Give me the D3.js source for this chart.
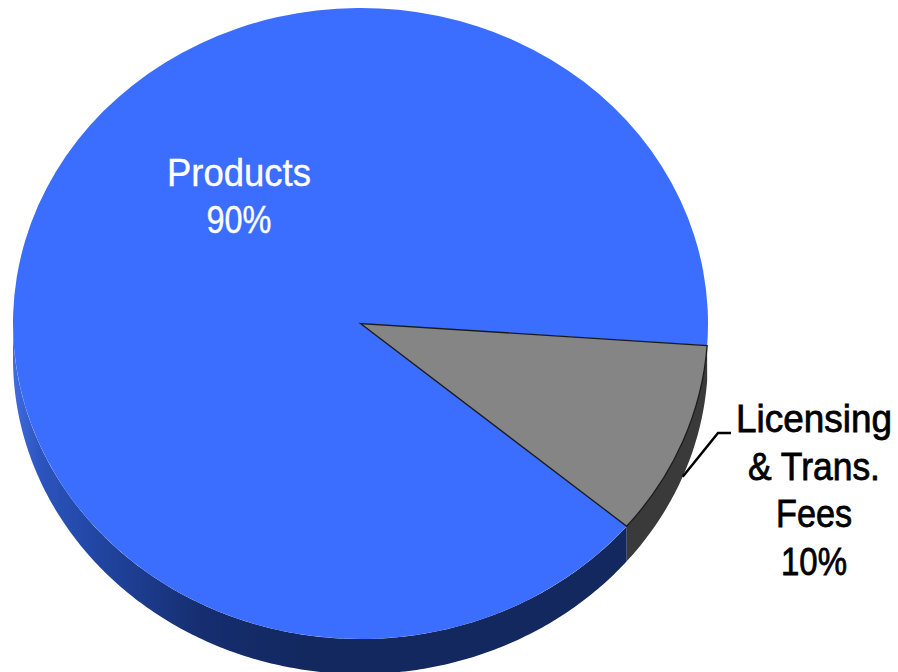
<!DOCTYPE html>
<html>
<head>
<meta charset="utf-8">
<script src="https://cdn.jsdelivr.net/npm/d3@7"></script>
<style>
  html, body { margin: 0; padding: 0; background: #fff; }
  svg { display: block; }
  text { font-family: "Liberation Sans", Arial, sans-serif; font-size: 39px; text-anchor: middle; }
</style>
</head>
<body>
<svg id="chart" width="898" height="672"></svg>
<script>
// Revenue split
const categories = ["Licensing & Trans. Fees", "Products"];
const shares = [10, 90];
const topColors = ["#858585", "#3b6dff"];
const labelLines = [["Licensing", "& Trans.", "Fees", "10%"], ["Products", "90%"]];
const labelWidths = [[156, 132, 76, 66], [144, 65]];

const cx = 360.5, cy = 323.5, rx = 347.5, ry = 315.5, depth = 35;
const firstSliceStart = 94 * Math.PI / 180;   // clockwise from 12 o'clock

const svg = d3.select("#chart");
const defs = svg.append("defs");

const sideGradient = defs.append("linearGradient")
  .attr("id", "blueSide")
  .attr("gradientUnits", "userSpaceOnUse")
  .attr("x1", cx - rx).attr("x2", cx + rx).attr("y1", 0).attr("y2", 0);
[[0, "#3f6ce0"], [0.04, "#2b54bd"], [0.13, "#20449f"], [0.27, "#162e70"], [0.42, "#12285f"], [1, "#12285f"]]
  .forEach(([offset, color]) => sideGradient.append("stop").attr("offset", offset).attr("stop-color", color));

const pie = d3.pie().sort(null)
  .startAngle(firstSliceStart)
  .endAngle(firstSliceStart + 2 * Math.PI);
const slices = pie(shares);

// Wall of the tilted disc: only the front half (angles 90°–270°) can be seen
const frontStart = Math.PI / 2, frontEnd = 3 * Math.PI / 2;
const rimX = a => cx + rx * Math.sin(a);
const rimY = a => cy - ry * Math.cos(a);
const wall = d3.area().x(rimX).y0(rimY).y1(a => rimY(a) + depth);
const sideColors = ["#3a3a3a", "url(#blueSide)"];

svg.append("g").selectAll("path")
  .data(slices)
  .join("path")
  .attr("d", d => {
    const a0 = Math.max(d.startAngle, frontStart);
    const a1 = Math.min(d.endAngle, frontEnd);
    const steps = Math.max(2, Math.ceil((a1 - a0) * 90));
    return wall(d3.range(steps + 1).map(i => a0 + (a1 - a0) * i / steps));
  })
  .attr("fill", (d, i) => sideColors[i]);

// Upper face of the disc
const arc = d3.arc().innerRadius(0).outerRadius(rx);
const face = svg.append("g")
  .attr("transform", `translate(${cx},${cy}) scale(1,${ry / rx})`);

face.selectAll("path")
  .data(slices)
  .join("path")
  .attr("d", arc)
  .attr("fill", (d, i) => topColors[i]);

// Thin dark outline around the grey slice
face.append("path")
  .datum(slices[0])
  .attr("d", arc)
  .attr("fill", "none")
  .attr("stroke", "#1a1a1a")
  .attr("stroke-width", 1.3)
  .attr("vector-effect", "non-scaling-stroke");

// Leader from the wall of the small slice to its label
const midAngle = (slices[0].startAngle + slices[0].endAngle) / 2;
svg.append("path")
  .attr("d", d3.line()([[rimX(midAngle), rimY(midAngle) + depth], [718, 433], [731, 433]]))
  .attr("fill", "none")
  .attr("stroke", "#000")
  .attr("stroke-width", 2.5);

// Labels, each line condensed horizontally to its own width
const labelAnchors = [
  { x: 814, y: 432, fill: "#000", step: 47.7, weight: 0.8 },
  { x: 239, y: 186, fill: "#fff", step: 46.5, weight: 0.4 }
];
svg.append("g").selectAll("text")
  .data(labelLines.flatMap((lines, s) => lines.map((line, i) => ({ line, i, s }))))
  .join("text")
  .attr("fill", d => labelAnchors[d.s].fill)
  .attr("stroke", d => labelAnchors[d.s].fill)
  .attr("stroke-width", d => labelAnchors[d.s].weight)
  .text(d => d.line)
  .attr("transform", function (d) {
    const a = labelAnchors[d.s];
    const squeeze = labelWidths[d.s][d.i] / this.getComputedTextLength();
    return `translate(${a.x},${a.y + d.i * a.step}) scale(${squeeze},1)`;
  });
</script>
</body>
</html>
